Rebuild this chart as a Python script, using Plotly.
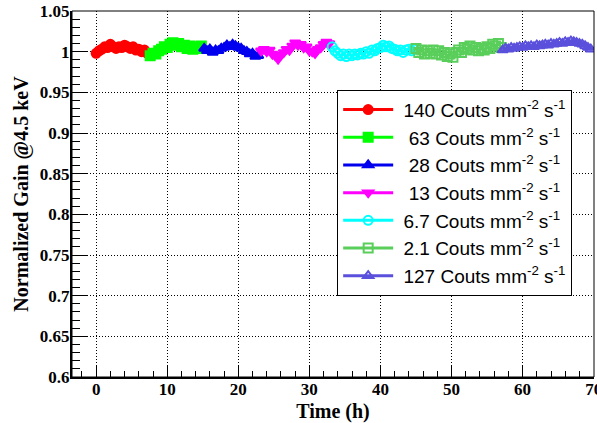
import plotly.graph_objects as go

# ---- data (time in hours, normalized gain) ----
STEP = 0.4
NB = "\u00a0"

labels = [
    NB + "140 Couts mm<sup>-2</sup> s<sup>-1</sup>",
    NB + NB + "63 Couts mm<sup>-2</sup> s<sup>-1</sup>",
    NB + NB + "28 Couts mm<sup>-2</sup> s<sup>-1</sup>",
    NB + NB + "13 Couts mm<sup>-2</sup> s<sup>-1</sup>",
    NB + "6.7 Couts mm<sup>-2</sup> s<sup>-1</sup>",
    NB + "2.1 Couts mm<sup>-2</sup> s<sup>-1</sup>",
    NB + "127 Couts mm<sup>-2</sup> s<sup>-1</sup>",
]

start_times = [0.0, 7.6, 15.2, 23.2, 33.2, 45.0, 57.2]

gain_140 = [0.998, 1.001, 1.003, 1.006, 1.005, 1.009, 1.006, 1.004, 1.006, 1.005,
            1.008, 1.006, 1.004, 1.006, 1.002, 1.003, 1.000, 1.002, 0.998]
gain_63 = [0.995, 0.998, 0.997, 1.001, 1.003, 1.006, 1.005, 1.009, 1.011, 1.008,
           1.010, 1.006, 1.008, 1.004, 1.007, 1.003, 1.006, 1.004, 1.007]
gain_28 = [1.004, 1.001, 1.003, 0.999, 1.002, 1.001, 1.004, 1.005, 1.008, 1.006,
           1.009, 1.007, 1.005, 1.004, 1.001, 1.000, 0.997, 0.998, 0.994, 0.995]
gain_13 = [1.001, 1.003, 1.000, 1.002, 0.997, 0.995, 0.991, 0.996, 0.999, 1.003,
           1.002, 1.007, 1.011, 1.008, 1.009, 1.005, 1.006, 1.001, 1.000, 0.998,
           1.003, 1.005, 1.009, 1.012, 1.010]
gain_6p7 = [1.006, 1.001, 0.998, 0.995, 0.997, 0.994, 0.997, 0.995, 0.997, 0.996,
            0.998, 0.997, 1.000, 0.998, 1.002, 1.001, 1.004, 1.005, 1.008, 1.006,
            1.007, 1.004, 1.003, 1.001, 1.002, 0.999, 1.002, 1.003, 1.001, 1.003]
gain_2p1 = [1.004, 0.999, 1.002, 0.997, 1.001, 0.998, 1.002, 0.997, 1.001, 0.996,
            0.999, 0.994, 0.997, 0.993, 0.999, 1.002, 0.999, 1.005, 1.003, 1.007,
            1.002, 1.005, 1.001, 1.004, 1.002, 1.006, 1.004, 1.009, 1.007, 1.010,
            1.005]
gain_127 = [1.002, 1.004, 1.003, 1.005, 1.004, 1.005, 1.006, 1.005, 1.007, 1.006,
            1.007, 1.006, 1.008, 1.007, 1.008, 1.009, 1.008, 1.010, 1.009, 1.010,
            1.011, 1.010, 1.012, 1.011, 1.013, 1.012, 1.011, 1.010, 1.009, 1.007,
            1.005, 1.003]

series = [gain_140, gain_63, gain_28, gain_13, gain_6p7, gain_2p1, gain_127]

colors = ["#ff0000", "#00ff00", "#0000ee", "#ff00ff", "#00ffff", "#5ace5a", "#5a50dc"]
symbols = ["circle", "square", "triangle-up", "triangle-down",
           "circle-open", "square-open", "triangle-up-open"]

y_ticks = [0.6, 0.65, 0.7, 0.75, 0.8, 0.85, 0.9, 0.95, 1, 1.05]
y_ticklabels = ["0.6", "0.65", "0.7", "0.75", "0.8", "0.85", "0.9", "0.95", "1", "1.05"]
x_ticks = [0, 10, 20, 30, 40, 50, 60, 70]

fig = go.Figure()
for lab, t0, vals, col, sym in zip(labels, start_times, series, colors, symbols):
    times = [round(t0 + STEP * i, 2) for i in range(len(vals))]
    fig.add_trace(go.Scatter(
        x=times, y=vals, mode="lines+markers", name=lab,
        line=dict(color=col, width=3),
        marker=dict(color=col, symbol=sym, size=9,
                    line=dict(color=col, width=2)),
    ))

serif = "Liberation Serif"
grid_dash = "1px,2px"

fig.update_layout(
    width=597, height=423,
    margin=dict(l=72, r=3, t=11, b=46, autoexpand=False),
    paper_bgcolor="white", plot_bgcolor="white",
    showlegend=True,
    legend=dict(
        x=0.508, y=0.785, xanchor="left", yanchor="top",
        bgcolor="white", bordercolor="black", borderwidth=1,
        font=dict(family="Liberation Sans", size=19, color="black"),
        itemwidth=50, tracegroupgap=0,
    ),
    xaxis=dict(
        range=[-3.4, 70.05], automargin=False,
        tickvals=x_ticks, ticktext=[str(v) for v in x_ticks],
        ticklabeloverflow="allow", ticklabelstandoff=-4,
        ticks="inside", ticklen=12, tickwidth=1, tickcolor="black",
        minor=dict(dtick=2, ticks="inside", ticklen=6, tickcolor="black", showgrid=False),
        showgrid=True, gridcolor="black", gridwidth=1, griddash=grid_dash,
        zeroline=False,
        showline=True, linecolor="black", linewidth=2, mirror=False,
        tickfont=dict(family=serif, size=17, color="black", weight="bold"),
        title=dict(text="Time (h)", standoff=8,
                   font=dict(family=serif, size=20, color="black", weight="bold")),
    ),
    yaxis=dict(
        range=[0.6, 1.05], automargin=False,
        tickvals=y_ticks, ticktext=y_ticklabels, ticklabelstandoff=-3,
        ticks="inside", ticklen=16, tickwidth=1, tickcolor="black",
        minor=dict(dtick=0.01, tick0=0.6, ticks="inside", ticklen=8, tickcolor="black", showgrid=False),
        showgrid=True, gridcolor="black", gridwidth=1, griddash=grid_dash,
        zeroline=False,
        showline=True, linecolor="black", linewidth=2, mirror=False,
        tickfont=dict(family=serif, size=17, color="black", weight="bold"),
        title=dict(text="Normalized Gain @4.5 keV", standoff=6,
                   font=dict(family=serif, size=20, color="black", weight="bold")),
    ),
    shapes=[dict(type="rect", xref="paper", yref="paper", x0=0, x1=1, y0=0, y1=1,
                 line=dict(color="black", width=1), fillcolor="rgba(0,0,0,0)", layer="above")],
)

fig.write_html("out.html")
